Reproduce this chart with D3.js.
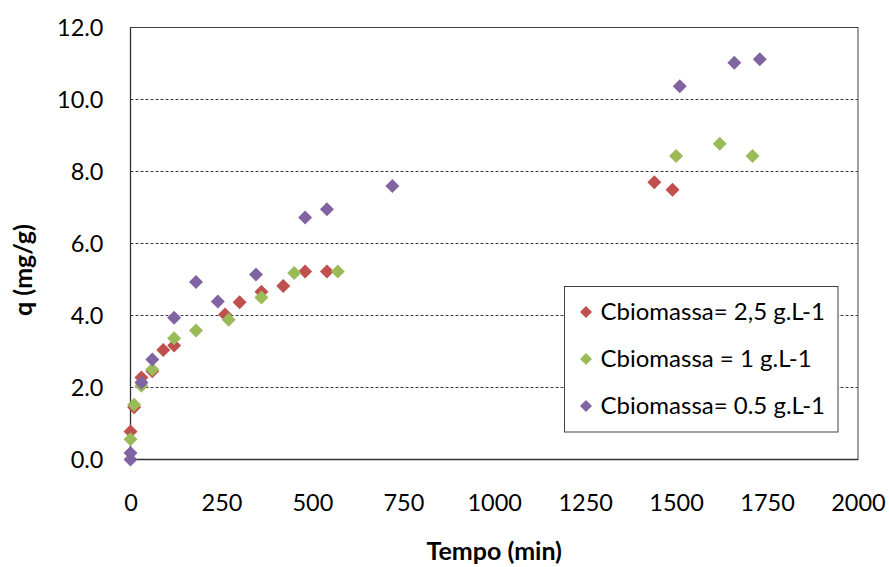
<!DOCTYPE html>
<html><head><meta charset="utf-8">
<script src="https://cdn.jsdelivr.net/npm/d3@7"></script>
<style>body{margin:0;background:#fff}svg{display:block}text{font-family:Lato,"Open Sans",sans-serif}</style>
</head><body><svg id="c" width="889" height="567"></svg>
<script>
const xTicks = [0,250,500,750,1000,1250,1500,1750,2000];
const yTicks = [0,2,4,6,8,10,12];
const seriesNames = ["Cbiomassa= 2,5 g.L-1","Cbiomassa = 1 g.L-1","Cbiomassa= 0.5 g.L-1"];
const seriesColors = ["#C0504D","#9BBB59","#8064A2"];
const red = [[0,0.78],[10,1.45],[30,2.28],[60,2.45],[90,3.04],[120,3.17],[260,4.03],[300,4.37],[360,4.66],[420,4.82],[480,5.22],[540,5.22],[1440,7.70],[1490,7.49]];
const green = [[0,0.56],[10,1.52],[30,2.05],[60,2.50],[120,3.37],[180,3.58],[270,3.88],[360,4.50],[450,5.18],[570,5.22],[1500,8.43],[1620,8.77],[1710,8.43]];
const purple = [[0,0.00],[0,0.18],[30,2.14],[60,2.78],[120,3.94],[180,4.93],[240,4.39],[345,5.14],[480,6.72],[540,6.95],[720,7.60],[1510,10.37],[1660,11.02],[1730,11.12]];
const series = [red, green, purple];

const svg = d3.select("#c");
const L = 130.5, R = 858, T = 27.5, B = 459.5;
const x = d3.scaleLinear().domain([0,2000]).range([L,R]);
const y = d3.scaleLinear().domain([0,12]).range([B,T]);

// gridlines
svg.append("g").selectAll("line").data(yTicks.filter(v=>v>0&&v<12)).join("line")
  .attr("x1",L).attr("x2",R).attr("y1",d=>y(d)).attr("y2",d=>y(d))
  .attr("stroke","#404040").attr("stroke-width",1).attr("stroke-dasharray","3,2");

// plot border
svg.append("rect").attr("x",L).attr("y",T).attr("width",R-L).attr("height",B-T)
  .attr("fill","none").attr("stroke","#404040").attr("stroke-width",1);
// axes lines
svg.append("line").attr("x1",L).attr("x2",L).attr("y1",T).attr("y2",B).attr("stroke","#303030").attr("stroke-width",1.3);
svg.append("line").attr("x1",L).attr("x2",R).attr("y1",B).attr("y2",B).attr("stroke","#303030").attr("stroke-width",1.3);

// axes labels via d3 axes (no tick lines)
const yAxis = svg.append("g").attr("transform",`translate(${L},0)`)
  .call(d3.axisLeft(y).tickValues(yTicks).tickFormat(d3.format(".1f")).tickSize(0).tickPadding(27));
const xAxis = svg.append("g").attr("transform",`translate(0,${B})`)
  .call(d3.axisBottom(x).tickValues(xTicks).tickFormat(d3.format("d")).tickSize(0).tickPadding(35));
[yAxis,xAxis].forEach(a=>{a.select(".domain").remove();a.selectAll("text").attr("font-family","Lato").attr("font-size",23.5).attr("fill","#000");});

// titles
svg.append("text").attr("x",(L+R)/2).attr("y",560).attr("text-anchor","middle")
  .attr("font-size",25).attr("font-weight","bold").text("Tempo (min)");
svg.append("text").attr("transform","translate(32,270) rotate(-90)").attr("text-anchor","middle")
  .attr("font-size",25).attr("font-weight","bold").text("q (mg/g)");

// markers
const diamond = r => `M0,${-r}L${r},0L0,${r}L${-r},0Z`;
series.forEach((s,i)=>{
  svg.append("g").selectAll("path").data(s).join("path")
    .attr("transform",d=>`translate(${x(d[0])},${y(d[1])})`)
    .attr("d",diamond(7)).attr("fill",seriesColors[i]);
});

// legend
const lg = svg.append("g");
lg.append("rect").attr("x",564.5).attr("y",286.5).attr("width",273.5).attr("height",145.5)
  .attr("fill","#fff").attr("stroke","#404040").attr("stroke-width",1);
const ly = [312,359,406];
seriesNames.forEach((n,i)=>{
  lg.append("path").attr("transform",`translate(586,${ly[i]})`).attr("d",diamond(6)).attr("fill",seriesColors[i]);
  lg.append("text").attr("x",600.5).attr("y",ly[i]).attr("dy","0.35em").attr("font-size",24).attr("fill","#000").text(n);
});
</script></body></html>
